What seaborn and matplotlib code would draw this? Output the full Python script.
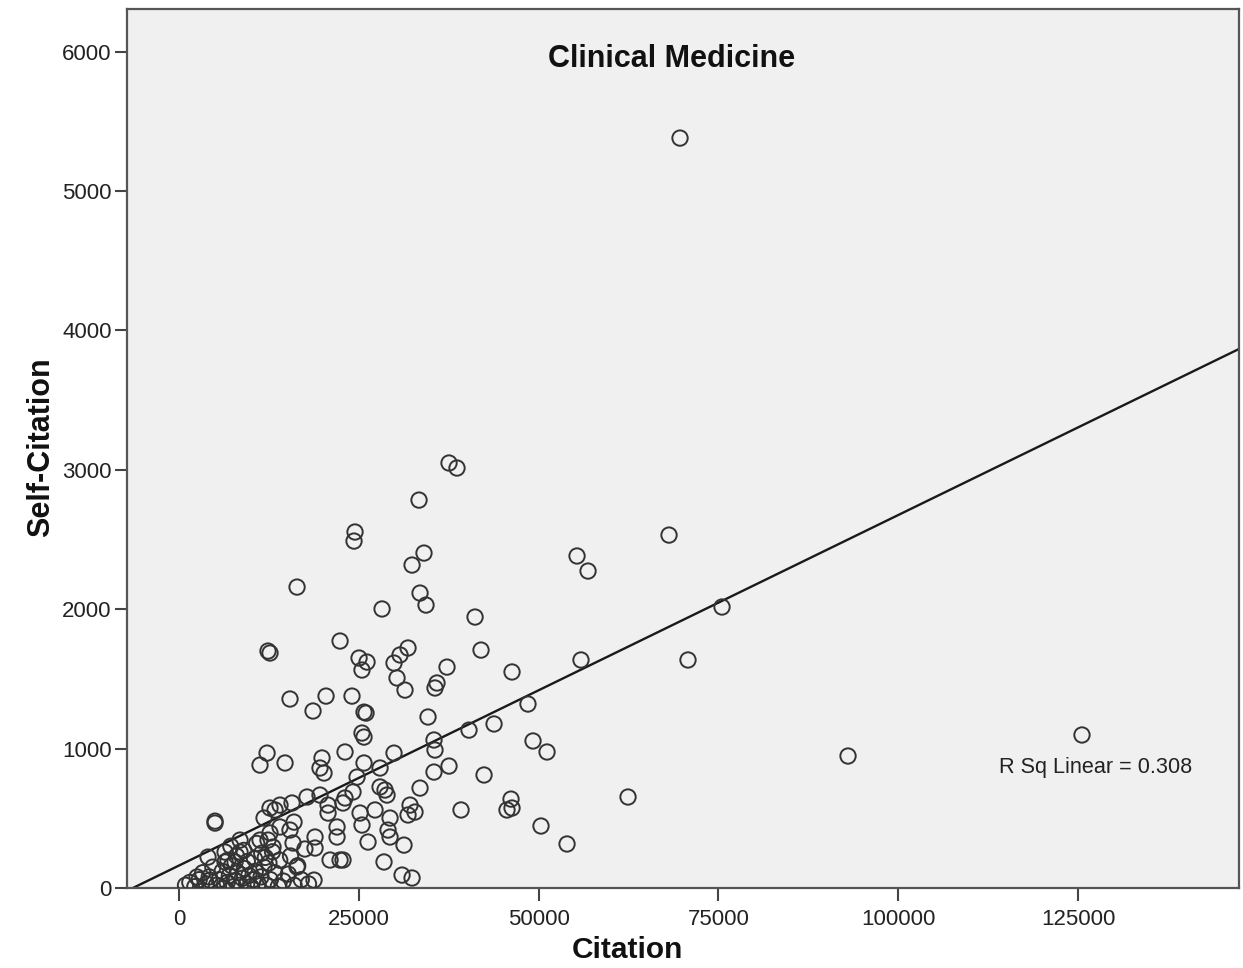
import matplotlib
matplotlib.use("Agg")
import matplotlib.pyplot as plt
import numpy as np
import pandas as pd
import seaborn as sns

# Citation counts (x) and self-citation counts (y) per country, Clinical Medicine
citation = [
    69660, 37540, 38650, 33370, 24470, 24330, 68130, 55340, 56870, 34060,
    32400, 16410, 33510, 34340, 28230, 75500, 41160, 12370, 12650, 22390,
    31840, 41990, 30730, 25030, 26140, 25440, 29890, 37260, 46300, 55890,
    70770, 30310, 31420, 35870, 35590, 15430, 20440, 24050, 18630, 26000,
    25720, 48520, 34620, 43800, 40320, 25440, 25720, 35450, 35590, 49220,
    51170, 12240, 11260, 14740, 19880, 19600, 20160, 23080, 25720, 29890,
    27950, 24750, 27950, 28640, 33510, 35450, 37540, 125550, 93020, 42410,
    62430, 46160, 45600, 46300, 39210, 50330, 53950, 31280, 5005, 5005,
    28500, 31010, 32400, 32120, 32810, 31840, 25170, 25440, 27250, 29340,
    29060, 29340, 26280, 22800, 23080, 24190, 28920, 12650, 14040, 15710,
    17800, 19600, 11820, 13350, 20720, 20720, 22800, 11260, 12370, 13070,
    15430, 15850, 18910, 18910, 21970, 21970, 21000, 22390, 16410, 18770,
    8480, 8480, 7790, 4030, 6400, 6400, 2500, 4310, 12650, 14040,
    15990,
    900, 1500, 2200, 2800, 3300, 3800, 4200, 4700, 5200, 5600,
    6000, 6300, 6700, 7000, 7300, 7600, 7900, 8200, 8500, 8800,
    9100, 9400, 9700, 10000, 10300, 10600, 11000, 11400, 11800, 12200,
    12700, 13300, 13800, 14500, 15200, 16000, 17000, 18000, 6800, 8000,
    9500, 10500, 11500, 12500, 9000, 10800, 7200, 14000, 15500, 16500,
    17500, 13000, 12000,
]
self_citation = [
    5380, 3049, 3013, 2783, 2554, 2489, 2532, 2382, 2274, 2403,
    2317, 2159, 2116, 2030, 2002, 2016, 1944, 1700, 1686, 1772,
    1722, 1707, 1672, 1650, 1621, 1564, 1614, 1585, 1550, 1636,
    1636, 1507, 1420, 1471, 1435, 1356, 1377, 1377, 1270, 1255,
    1262, 1320, 1227, 1177, 1133, 1112, 1083, 1062, 990, 1055,
    976, 968, 882, 897, 933, 861, 825, 976, 897, 968,
    861, 796, 725, 703, 717, 832, 875, 1098, 947, 811,
    653, 638, 560, 574, 560, 445, 316, 308, 466, 480,
    187, 93, 72, 595, 545, 524, 538, 452, 560, 502,
    416, 366, 330, 201, 646, 689, 667, 574, 595, 610,
    653, 667, 502, 560, 595, 538, 610, 344, 344, 294,
    416, 323, 366, 287, 438, 366, 201, 201, 151, 57,
    344, 258, 187, 222, 187, 258, 79, 57, 395, 438,
    473,
    20, 40, 10, 60, 110, 30, 80, 150, 20, 60,
    120, 0, 40, 90, 160, 10, 50, 110, 20, 70,
    140, 30, 90, 10, 60, 120, 30, 80, 150, 20,
    60, 110, 10, 50, 100, 20, 60, 30, 200, 230,
    190, 210, 250, 180, 270, 320, 300, 200, 230, 160,
    280, 260, 220,
]

x_ticks = [0, 25000, 50000, 75000, 100000, 125000]
y_ticks = [0, 1000, 2000, 3000, 4000, 5000, 6000]
chart_title = "Clinical Medicine"
fit_label = "R Sq Linear = 0.308"

df = pd.DataFrame({"Citation": citation, "Self-Citation": self_citation})

sns.set_theme(style="white")
plt.rcParams["font.family"] = ["Liberation Sans", "DejaVu Sans"]

fig = plt.figure(figsize=(12.43, 9.68), dpi=100)
fig.patch.set_facecolor("white")
ax = fig.add_axes([0.1022, 0.0826, 0.8946, 0.9081])
ax.set_facecolor("#f0f0f0")
ax.set_xlim(-7230, 147386)
ax.set_ylim(0, 6306)

# Open circles plus the least-squares line across the full x range
sns.regplot(
    data=df, x="Citation", y="Self-Citation", ax=ax,
    ci=None, truncate=False,
    marker="o",
    scatter_kws=dict(s=122, facecolors="none", edgecolors="#333333",
                     linewidths=1.4, alpha=1, zorder=3),
    line_kws=dict(color="#1a1a1a", lw=1.7, zorder=2),
)
ax.set_xlim(-7230, 147386)
ax.set_ylim(0, 6306)

ax.set_xticks(x_ticks)
ax.set_xticklabels([str(t) for t in x_ticks])
ax.set_yticks(y_ticks)
ax.set_yticklabels([str(t) for t in y_ticks])
ax.tick_params(axis="both", direction="out", length=9, width=1.5,
               color="#444444", labelsize=16, labelcolor="#222222", pad=2,
               bottom=True, left=True, top=False, right=False)
ax.tick_params(axis="x", pad=6)

for sp in ax.spines.values():
    sp.set_visible(True)
    sp.set_color("#555555")
    sp.set_linewidth(1.6)

ax.set_xlabel("Citation", fontsize=21.5, fontweight="bold", color="#111111")
ax.set_ylabel("Self-Citation", fontsize=22, fontweight="bold", color="#111111")
ax.xaxis.set_label_coords(0.4496, -0.055)
ax.yaxis.set_label_coords(-0.064, 0.5017)

ax.text(0.49, 0.943, chart_title, transform=ax.transAxes, ha="center",
        va="center", fontsize=22, fontweight="bold", color="#111111")
ax.text(0.784, 0.137, fit_label, transform=ax.transAxes, ha="left",
        va="center", fontsize=15.6, color="#222222")

fig.savefig("out.png", dpi=100, facecolor="white")
